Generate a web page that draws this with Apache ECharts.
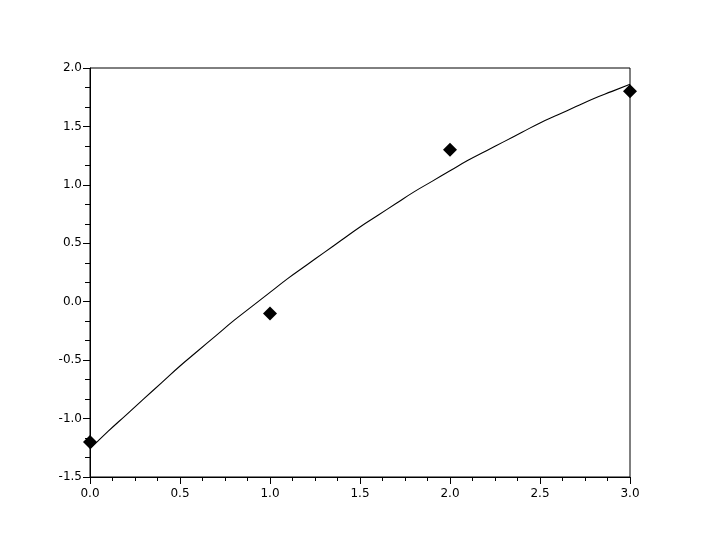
<!DOCTYPE html>
<html>
<head>
<meta charset="utf-8">
<script src="https://cdn.jsdelivr.net/npm/echarts@6/dist/echarts.min.js"></script>
<style>html,body{margin:0;padding:0;background:#fff}#c{width:719px;height:543px}</style>
</head>
<body>
<div id="c"></div>
<script>
// Observed data points (diamonds)
const pointX = [0, 1, 2, 3];
const pointY = [-1.2, -0.1, 1.3, 1.8];
// Curve
const curveX = [0.0,0.1,0.2,0.3,0.4,0.5,0.6,0.7,0.8,0.9,1.0,1.1,1.2,1.3,1.4,1.5,1.6,1.7,1.8,1.9,2.0,2.1,2.2,2.3,2.4,2.5,2.6,2.7,2.8,2.9,3.0];
const curveY = [-1.26,-1.11,-0.97,-0.83,-0.69,-0.55,-0.42,-0.29,-0.16,-0.04,0.08,0.20,0.31,0.42,0.53,0.64,0.74,0.84,0.94,1.03,1.12,1.21,1.29,1.37,1.45,1.53,1.60,1.67,1.74,1.80,1.86];

const chart = echarts.init(document.getElementById('c'), null, {renderer: 'canvas'});
const labelStyle = {color: '#000', fontFamily: 'DejaVu Sans', fontSize: 12, formatter: v => v.toFixed(1)};
chart.setOption({
  animation: false,
  backgroundColor: '#fff',
  grid: {left: 90, right: 89, top: 68, bottom: 66, show: true, borderColor: '#000', borderWidth: 1},
  xAxis: {
    type: 'value', min: 0, max: 3, interval: 0.5,
    axisLine: {show: true, onZero: false, lineStyle: {color: '#000', width: 1}},
    axisTick: {show: true, length: 7, lineStyle: {color: '#000'}},
    minorTick: {show: true, splitNumber: 4, length: 4, lineStyle: {color: '#000'}},
    splitLine: {show: false},
    axisLabel: Object.assign({margin: 11}, labelStyle)
  },
  yAxis: {
    type: 'value', min: -1.5, max: 2, interval: 0.5,
    axisLine: {show: true, onZero: false, lineStyle: {color: '#000', width: 1}},
    axisTick: {show: true, length: 7, lineStyle: {color: '#000'}},
    minorTick: {show: true, splitNumber: 3, length: 5, lineStyle: {color: '#000'}},
    splitLine: {show: false},
    axisLabel: Object.assign({margin: 8}, labelStyle)
  },
  series: [
    {
      type: 'line', data: curveX.map((x, i) => [x, curveY[i]]),
      showSymbol: false, smooth: true,
      lineStyle: {color: '#000', width: 1.1}, z: 2
    },
    {
      type: 'scatter', data: pointX.map((x, i) => [x, pointY[i]]),
      symbol: 'diamond', symbolSize: 14,
      itemStyle: {color: '#000', opacity: 1}, z: 3
    }
  ]
});
</script>
</body>
</html>
